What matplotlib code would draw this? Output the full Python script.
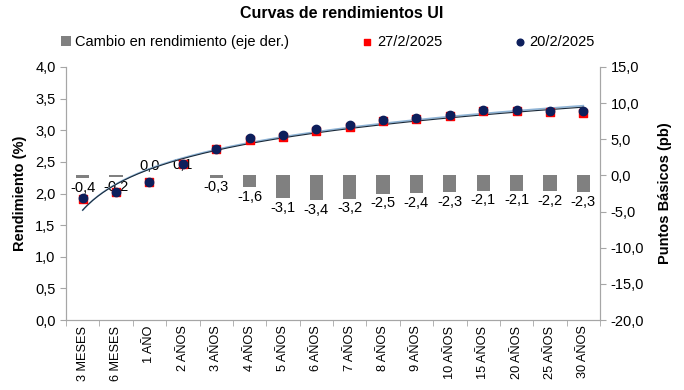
import numpy as np
import matplotlib
matplotlib.use("Agg")
import matplotlib.pyplot as plt

plt.rcParams['font.family'] = ['Liberation Sans', 'DejaVu Sans']

plazos = ['3 MESES', '6 MESES', '1 AÑO', '2 AÑOS', '3 AÑOS', '4 AÑOS', '5 AÑOS', '6 AÑOS',
          '7 AÑOS', '8 AÑOS', '9 AÑOS', '10 AÑOS', '15 AÑOS', '20 AÑOS', '25 AÑOS', '30 AÑOS']
curva_20feb = [1.93, 2.02, 2.18, 2.47, 2.71, 2.87, 2.93, 3.02,
               3.08, 3.16, 3.20, 3.24, 3.32, 3.32, 3.31, 3.30]
curva_27feb = [1.92, 2.02, 2.18, 2.47, 2.71, 2.85, 2.90, 2.99,
               3.05, 3.14, 3.18, 3.22, 3.30, 3.30, 3.29, 3.28]
cambio_pb = [-0.4, -0.2, 0.0, 0.1, -0.3, -1.6, -3.1, -3.4,
             -3.2, -2.5, -2.4, -2.3, -2.1, -2.1, -2.2, -2.3]

gris = '#808080'
rojo = '#FF0000'
azul = '#0D1F5C'
eje = '#A6A6A6'

fig = plt.figure(figsize=(6.84, 3.90), dpi=100)
ax = fig.add_axes([66 / 684, 1 - 320 / 390, (600 - 66) / 684, (320 - 67) / 390])
ax2 = ax.twinx()

x = np.arange(len(plazos))

# barras de cambio (eje derecho)
ax2.bar(x, cambio_pb, width=0.4, color=gris, label='Cambio en rendimiento (eje der.)', zorder=1)
for xi, v in zip(x, cambio_pb):
    txt = f'{v:.1f}'.replace('.', ',')
    if v >= 0:
        ax2.annotate(txt, (xi, v), xytext=(0, 2), textcoords='offset points',
                     ha='center', va='bottom', fontsize=10.5)
    else:
        ax2.annotate(txt, (xi, v), xytext=(0, -2), textcoords='offset points',
                     ha='center', va='top', fontsize=10.5)
ax2.set_ylim(-20, 15)
ax2.set_yticks(np.arange(-20, 15.1, 5))
ax2.set_yticklabels([f'{t:.1f}'.replace('.', ',') for t in np.arange(-20, 15.1, 5)])
ax2.set_ylabel('Puntos Básicos (pb)', fontsize=10.5, fontweight='bold', labelpad=10)

# curvas (eje izquierdo) por encima de las barras
ax.set_zorder(ax2.get_zorder() + 1)
ax.patch.set_visible(False)

# lineas de tendencia logaritmicas
xl = np.linspace(1, len(plazos), 200)
c27 = np.polyfit(np.log(x + 1), curva_27feb, 1)
c20 = np.polyfit(np.log(x + 1), curva_20feb, 1)
ax.plot(xl - 1, c20[0] * np.log(xl) + c20[1], color='#8FB4D6', lw=1.2, zorder=2)
ax.plot(xl - 1, c27[0] * np.log(xl) + c27[1], color='#1A2A3A', lw=0.8, zorder=2)

ax.scatter(x, curva_27feb, marker='s', s=36, color=rojo, label='27/2/2025', zorder=3)
ax.scatter(x, curva_20feb, marker='o', s=36, color=azul, label='20/2/2025', zorder=4)

ax.set_ylim(0, 4)
ax.set_yticks(np.arange(0, 4.01, 0.5))
ax.set_yticklabels([f'{t:.1f}'.replace('.', ',') for t in np.arange(0, 4.01, 0.5)])
ax.set_ylabel('Rendimiento (%)', fontsize=10.5, fontweight='bold', labelpad=6)
ax.set_xlim(-0.5, len(plazos) - 0.5)
ax.set_xticks(x)
ax.set_xticklabels(plazos, rotation=90)
ax.set_xticks(np.arange(-0.5, len(plazos), 1), minor=True)
ax.tick_params(axis='x', which='major', length=0, pad=4)
ax.tick_params(axis='x', which='minor', length=4, color=eje)

for a in (ax, ax2):
    a.tick_params(axis='y', length=4, color=eje, labelsize=10.5)
    a.tick_params(axis='x', labelsize=9.2)
    a.spines['top'].set_visible(False)
    for s in ('left', 'right', 'bottom'):
        a.spines[s].set_color(eje)

fig.text(0.5, 1 - 13 / 390, 'Curvas de rendimientos UI', fontsize=11.5, fontweight='bold',
         ha='center', va='center')

h1, l1 = ax2.get_legend_handles_labels()
h2, l2 = ax.get_legend_handles_labels()
fig.legend(h1 + h2, l1 + l2, loc='center', bbox_to_anchor=(328 / 684, 1 - 42 / 390),
           ncol=3, frameon=False, fontsize=10.5, handlelength=0.7, handletextpad=0.3,
           columnspacing=5, markerscale=0.8)

fig.savefig('out.png', dpi=100)
